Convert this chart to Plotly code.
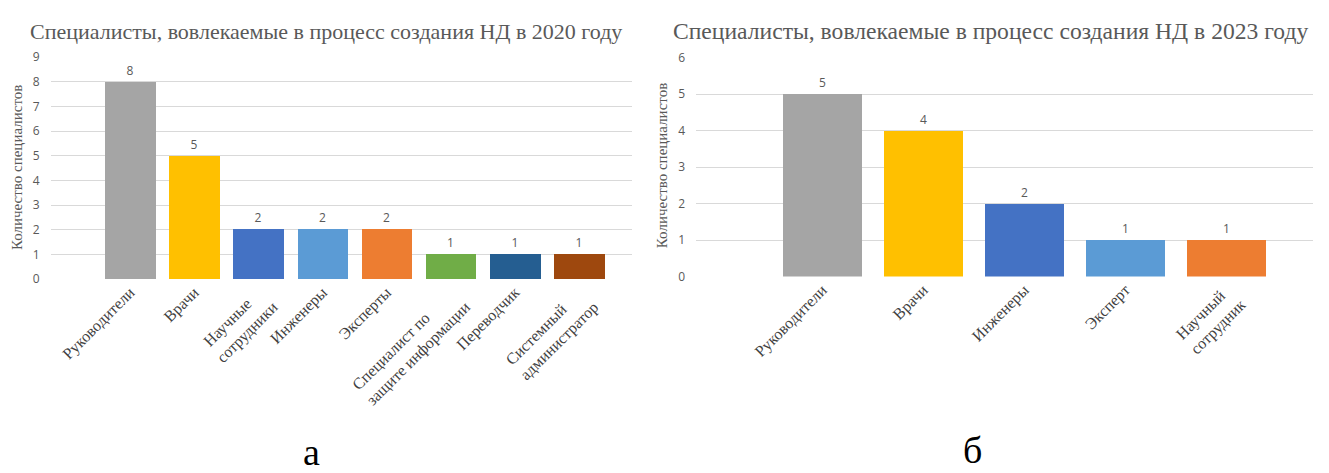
import plotly.graph_objects as go

W, H = 1329, 473

# ---- data ----
cats_2020 = ["Руководители", "Врачи", "Научные<br>сотрудники", "Инженеры", "Эксперты",
             "Специалист по<br>защите информации", "Переводчик", "Системный<br>администратор"]
vals_2020 = [8, 5, 2, 2, 2, 1, 1, 1]
colors_2020 = ["#A5A5A5", "#FFC000", "#4472C4", "#5B9BD5", "#ED7D31", "#70AD47", "#255E91", "#9E480E"]

cats_2023 = ["Руководители", "Врачи", "Инженеры", "Эксперт", "Научный<br>сотрудник"]
vals_2023 = [5, 4, 2, 1, 1]
colors_2023 = ["#A5A5A5", "#FFC000", "#4472C4", "#5B9BD5", "#ED7D31"]

title_2020 = "Специалисты, вовлекаемые в процесс создания НД в 2020 году"
title_2023 = "Специалисты, вовлекаемые в процесс создания НД в 2023 году"
ytitle = "Количество специалистов"

GRAY = "#595959"
SERIF = "Liberation Serif, Times New Roman, serif"
SANS = "Open Sans, Liberation Sans, sans-serif"

# approximate Times glyph widths (em) for left-aligning multi-line rotated labels
_WID = {"а": .44, "е": .44, "с": .44, "т": .44, "з": .40, "ы": .72, "щ": .78, "ф": .65,
        "м": .62, "ц": .52, "н": .52, "и": .53, "й": .53, " ": .25, "С": .67, "Н": .72}

def _w(s):
    return sum(_WID.get(ch, .5) for ch in s)

def left_align(label):
    lines = label.split("<br>")
    if len(lines) == 1:
        return label
    mx = max(_w(l) for l in lines)
    out = [l + "\u00a0" * int(round((mx - _w(l)) / 0.25)) for l in lines]
    return "<br>".join(out)

def px(x):
    return x / W

def py(y):
    return 1 - y / H

fig = go.Figure()
fig.add_trace(go.Bar(
    x=list(range(len(cats_2020))), y=vals_2020, marker=dict(color=colors_2020, line=dict(width=0)),
    width=0.79, text=vals_2020, textposition="outside", cliponaxis=False,
    textfont=dict(size=12, color=GRAY, family=SANS), xaxis="x", yaxis="y", showlegend=False,
))
fig.add_trace(go.Bar(
    x=list(range(len(cats_2023))), y=vals_2023, marker=dict(color=colors_2023, line=dict(width=0)),
    width=0.78, text=vals_2023, textposition="outside", cliponaxis=False,
    textfont=dict(size=12, color=GRAY, family=SANS), xaxis="x2", yaxis="y2", showlegend=False,
))

xcommon = dict(showgrid=False, zeroline=False, showline=False, ticks="", tickangle=-45,
               tickfont=dict(family=SERIF, size=16, color="#404040"))
ycommon = dict(showgrid=True, gridcolor="#D9D9D9", gridwidth=1, zeroline=False, showline=False,
               ticks="", tickfont=dict(family=SANS, size=12, color=GRAY), dtick=1,
               ticklabelstandoff=10)

fig.update_layout(
    width=W, height=H, margin=dict(l=0, r=0, t=0, b=0),
    paper_bgcolor="white", plot_bgcolor="white", bargap=0,
    xaxis=dict(domain=[px(50.5), px(631.5)], range=[-1.24, 7.82], anchor="y",
               tickvals=list(range(len(cats_2020))),
               ticktext=[left_align(c) for c in cats_2020], **xcommon),
    yaxis=dict(domain=[py(280), py(50)], range=[0, 9], anchor="x", **ycommon),
    xaxis2=dict(domain=[px(696), px(1313)], range=[-1.25, 4.86], anchor="y2",
                tickvals=list(range(len(cats_2023))),
                ticktext=[left_align(c) for c in cats_2023], **xcommon),
    yaxis2=dict(domain=[py(277.5), py(50.5)], range=[0, 6], anchor="x2", **ycommon),
)

ann = []
ann.append(dict(text=title_2020, x=px(28), y=py(23), xref="paper", yref="paper",
                xanchor="left", yanchor="middle", showarrow=False,
                font=dict(family=SERIF, size=22, color=GRAY)))
ann.append(dict(text=title_2023, x=px(671), y=py(23), xref="paper", yref="paper",
                xanchor="left", yanchor="middle", showarrow=False,
                font=dict(family=SERIF, size=23.6, color=GRAY)))
ann.append(dict(text=ytitle, x=px(17), y=py(165), xref="paper", yref="paper",
                xanchor="center", yanchor="middle", showarrow=False, textangle=-90,
                font=dict(family=SERIF, size=15, color=GRAY)))
ann.append(dict(text=ytitle, x=px(662), y=py(163), xref="paper", yref="paper",
                xanchor="center", yanchor="middle", showarrow=False, textangle=-90,
                font=dict(family=SERIF, size=15, color=GRAY)))
ann.append(dict(text="а", x=px(311), y=py(459), xref="paper", yref="paper",
                xanchor="center", yanchor="middle", showarrow=False,
                font=dict(family=SERIF, size=38, color="black")))
ann.append(dict(text="б", x=px(972), y=py(457), xref="paper", yref="paper",
                xanchor="center", yanchor="middle", showarrow=False,
                font=dict(family=SERIF, size=38, color="black")))
fig.update_layout(annotations=ann)

fig.write_html("out.html")
